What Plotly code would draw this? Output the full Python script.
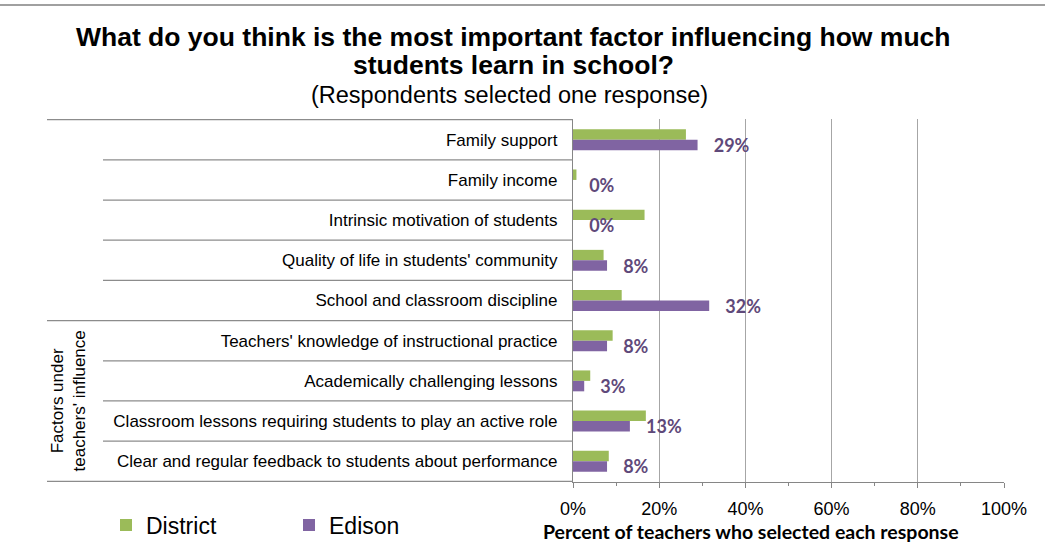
import plotly.graph_objects as go

categories = [
    "Family support",
    "Family income",
    "Intrinsic motivation of students",
    "Quality of life in students' community",
    "School and classroom discipline",
    "Teachers' knowledge of instructional practice",
    "Academically challenging lessons",
    "Classroom lessons requiring students to play an active role",
    "Clear and regular feedback to students about performance",
]
district = [26.2, 0.8, 16.6, 7.1, 11.3, 9.2, 4.0, 16.9, 8.3]
edison = [28.9, 0.0, 0.0, 7.9, 31.6, 7.9, 2.6, 13.2, 7.9]
edison_labels = ["29%", "0%", "0%", "8%", "32%", "8%", "3%", "13%", "8%"]
x_ticks = [0, 20, 40, 60, 80, 100]
x_tick_labels = ["0%", "20%", "40%", "60%", "80%", "100%"]
group_label = "Factors under<br>teachers' influence"
group_first, group_last = 5, 8

W, H = 1045, 552
ML, MR, MT, MB = 573, 41, 119, 70
PW = W - ML - MR
PH = H - MT - MB

def px_x(p):
    return (p - ML) / PW

def px_y(p):
    return (H - MB - p) / PH

ARIAL = "Liberation Sans, Arial, sans-serif"
BOLDLBL = "Lato, Open Sans, sans-serif"
GREEN = "#9BBB59"
PURPLE = "#8064A2"
LBL = "#5F497A"
LINE = "#8C8C8C"

fig = go.Figure()
fig.add_trace(go.Bar(
    y=categories, x=district, orientation="h", name="District",
    marker=dict(color=GREEN, line=dict(width=0)),
))
nb = "\u00a0\u00a0\u00a0"
fig.add_trace(go.Bar(
    y=categories, x=edison, orientation="h", name="Edison",
    marker=dict(color=PURPLE, line=dict(width=0)),
    text=[nb + t for t in edison_labels], textposition="outside",
    constraintext="none",
    textfont=dict(family=BOLDLBL, size=18, color=LBL, weight="bold"),
    cliponaxis=False,
))

shapes = []
n = len(categories)
for i in range(n - 1):
    x0 = px_x(47) if i == group_first - 1 else px_x(103)
    shapes.append(dict(type="line", xref="paper", yref="y", x0=x0, x1=0,
                       y0=i + 0.5, y1=i + 0.5, line=dict(color=LINE, width=1.3)))
for yv in (-0.5, n - 0.5):
    shapes.append(dict(type="line", xref="paper", yref="y", x0=px_x(47), x1=0,
                       y0=yv, y1=yv, line=dict(color=LINE, width=1.3)))
shapes.append(dict(type="line", xref="paper", yref="paper", x0=px_x(0), x1=px_x(W),
                   y0=px_y(5), y1=px_y(5), line=dict(color="#A0A0A0", width=2)))

annotations = [
    dict(text="<b>What do you think is the most important factor influencing how much</b>",
         xref="paper", yref="paper", x=px_x(513), y=px_y(37), xanchor="center", yanchor="middle",
         showarrow=False, font=dict(family=ARIAL, size=26.5, color="black")),
    dict(text="<b>students learn in school?</b>",
         xref="paper", yref="paper", x=px_x(513), y=px_y(65), xanchor="center", yanchor="middle",
         showarrow=False, font=dict(family=ARIAL, size=26.5, color="black")),
    dict(text="(Respondents selected one response)",
         xref="paper", yref="paper", x=px_x(509), y=px_y(95), xanchor="center", yanchor="middle",
         showarrow=False, font=dict(family=ARIAL, size=23.5, color="black")),
    dict(text=group_label, textangle=-90,
         xref="paper", yref="y", x=px_x(68.5), y=(group_first + group_last) / 2,
         xanchor="center", yanchor="middle", showarrow=False,
         font=dict(family=ARIAL, size=17, color="black")),
    dict(text="<b>Percent of teachers who selected each response</b>",
         xref="paper", yref="paper", x=px_x(751), y=px_y(531), xanchor="center", yanchor="middle",
         showarrow=False, font=dict(family=BOLDLBL, size=19.5, color="black")),
]

fig.update_layout(
    width=W, height=H,
    margin=dict(l=ML, r=MR, t=MT, b=MB, autoexpand=False),
    paper_bgcolor="white", plot_bgcolor="white",
    barmode="group", bargap=0.48, bargroupgap=0,
    showlegend=True,
    legend=dict(orientation="h", x=px_x(106), y=px_y(525), xanchor="left", yanchor="middle",
                entrywidth=138, entrywidthmode="pixels",
                font=dict(family=ARIAL, size=23, color="black"), traceorder="normal"),
    shapes=shapes,
    annotations=annotations,
    xaxis=dict(range=[0, 100], tickvals=x_ticks, ticktext=x_tick_labels,
               showgrid=True, gridcolor="#A6A6A6", gridwidth=1.3,
               showline=True, linecolor="#868686", linewidth=1.3,
               ticks="outside", ticklen=5, tickcolor="#868686", tickwidth=1.3,
               minor=dict(dtick=10, tick0=0, ticks="outside", ticklen=3,
                          tickcolor="#868686", tickwidth=1.3, showgrid=False),
               ticklabelstandoff=5,
               tickfont=dict(family=ARIAL, size=18, color="black"),
               zeroline=False, fixedrange=True),
    yaxis=dict(categoryorder="array", categoryarray=categories, autorange="reversed",
               showline=True, linecolor="#868686", linewidth=1.3,
               ticks="", showgrid=False, ticklabelstandoff=11,
               tickfont=dict(family=ARIAL, size=17, color="black"), fixedrange=True),
)

fig.write_html("out.html", config={"displayModeBar": False},
               post_script="document.body.style.margin='0';")
